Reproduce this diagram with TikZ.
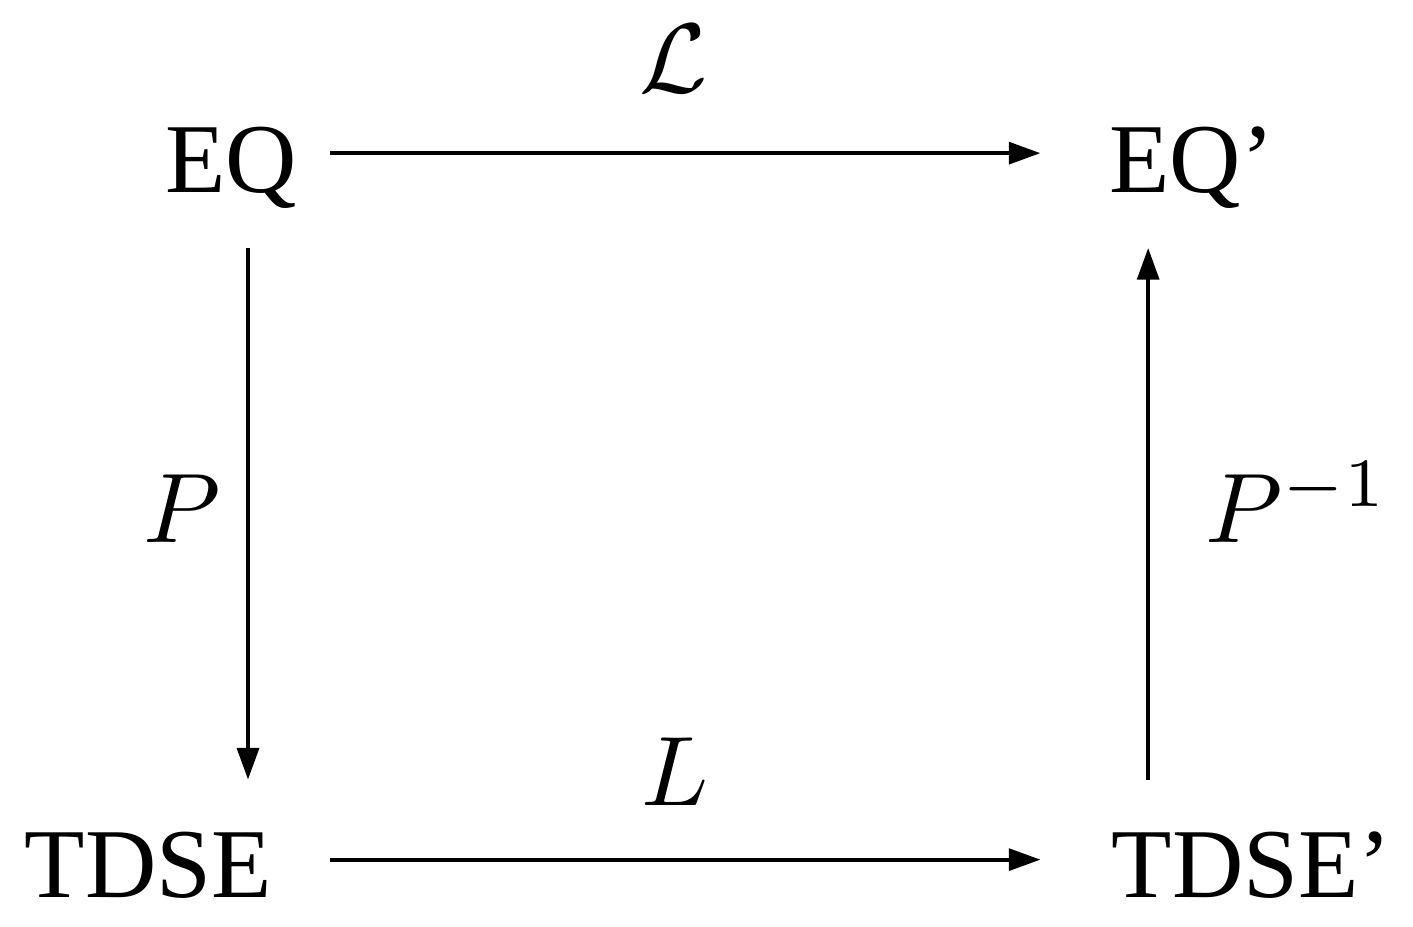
\documentclass[tikz,border=0pt]{standalone}
\usepackage{fontspec}
\setmainfont{Liberation Serif}
\usepackage{amsmath}
\usepackage{tikz}
\usetikzlibrary{arrows.meta}
\tikzset{
    every node/.style={inner sep=0pt, anchor=base}
}
\tikzset{
    map/.style={-{Triangle[length=3.2pt,width=2.2pt]}, line width=0.4pt}
}

\begin{document}
\begin{tikzpicture}[x=1pt, y=1pt]
	\useasboundingbox (0,0) rectangle (143,93.8);
	\node (eq) at (23.4,74.3) {EQ};
	\node (eqp) at (120.6,74.3) {EQ'};
	\node (tdse) at (15.0,3.0) {TDSE};
	\node (tdsep) at (126.7,3.0) {TDSE'};
	\node (calL) at (68.2,84.4) {$\mathcal{L}$};
	\node (L) at (68.3,12.3) {$L$};
	\node (P) at (18.4,38.9) {$P$};
	\node (Pinv) at (131.3,38.9) {$P^{-1}$};
	\coordinate (a1) at (33.4,78.3); \coordinate (a2) at (105.3,78.3);
	\coordinate (b1) at (33.4,6.8); \coordinate (b2) at (105.3,6.8);
	\coordinate (c1) at (25.1,68.7); \coordinate (c2) at (25.1,14.9);
	\coordinate (d1) at (116.2,14.9); \coordinate (d2) at (116.2,68.7);
	\draw[map] (a1) -- (a2); \draw[map] (b1) -- (b2);
	\draw[map] (c1) -- (c2); \draw[map] (d1) -- (d2);
\end{tikzpicture}
\end{document}
